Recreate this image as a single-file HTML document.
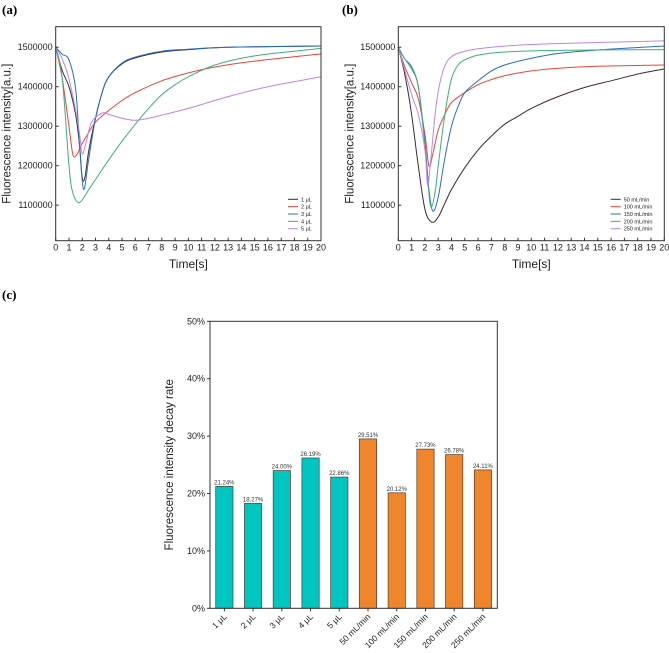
<!DOCTYPE html>
<html><head><meta charset="utf-8"><style>
html,body{margin:0;padding:0;background:#fff;}
svg{display:block;font-family:"Liberation Sans",sans-serif;}
</style></head><body>
<svg id="fig" width="669" height="653" viewBox="0 0 669 653">
<text x="2" y="14" font-family="Liberation Serif" font-weight="bold" font-size="13">(a)</text>
<text x="342" y="14" font-family="Liberation Serif" font-weight="bold" font-size="13">(b)</text>
<text x="2" y="299" font-family="Liberation Serif" font-weight="bold" font-size="13">(c)</text>
<g id="pa"></g>
<g id="pb"></g>
<g id="pc"></g>
</svg>
<script>
// Panel a data (time s, intensity in thousands)
const aNames = ["1 μL","2 μL","3 μL","4 μL","5 μL"];
const aS1 = [[0,1500],[0.5,1440],[1,1400],[1.5,1330],[1.8,1250],[2,1170],[2.2,1170],[2.5,1240],[3,1320],[3.5,1385],[4,1425],[5,1458],[6,1473],[8,1488],[10,1494],[13,1500],[20,1503]];
const aS2 = [[0,1500],[0.5,1420],[1,1300],[1.3,1228],[1.6,1228],[1.9,1250],[2.5,1285],[3,1310],[4,1340],[5,1365],[6,1385],[8,1415],[10,1435],[12,1450],[15,1465],[20,1483]];
const aS3 = [[0,1500],[0.5,1482],[1,1468],[1.5,1395],[1.8,1250],[2.1,1140],[2.5,1220],[3,1320],[3.5,1385],[4,1425],[5,1460],[6,1475],[8,1490],[10,1495],[13,1500],[20,1503]];
const aS4 = [[0,1500],[0.5,1420],[1,1200],[1.3,1130],[1.8,1107],[2.5,1140],[3,1165],[4,1215],[5,1262],[6,1305],[7,1345],[8,1380],[9,1405],[10,1425],[12,1455],[15,1478],[20,1497]];
const aS5 = [[0,1500],[0.5,1470],[1,1420],[1.5,1340],[1.8,1280],[2,1230],[2.3,1260],[2.7,1310],[3.5,1333],[4,1330],[5,1320],[6,1315],[7,1320],[8,1328],[10,1345],[13,1375],[16,1400],[20,1425]];
// Panel b data
const bNames = ["50 mL/min","100 mL/min","150 mL/min","200 mL/min","250 mL/min"];
const bS1 = [[0,1500],[0.5,1430],[1,1330],[1.5,1200],[2,1090],[2.5,1057],[3,1070],[3.5,1105],[4,1140],[5,1195],[6,1240],[7,1275],[8,1305],[9,1325],[10,1345],[12,1375],[14,1398],[16,1415],[18,1432],[20,1445]];
const bS2 = [[0,1500],[0.5,1450],[1,1410],[1.5,1370],[2,1280],[2.3,1200],[2.6,1230],[3,1290],[3.5,1330],[4,1360],[5,1385],[6,1405],[7,1418],[8,1428],[10,1440],[12,1447],[15,1452],[20,1455]];
const bS3 = [[0,1500],[0.5,1470],[1,1450],[1.5,1400],[2,1260],[2.3,1140],[2.6,1085],[3,1120],[3.5,1220],[4,1300],[4.5,1350],[5,1385],[6,1415],[7,1440],[8,1455],[10,1472],[12,1484],[15,1493],[20,1503]];
const bS4 = [[0,1500],[0.5,1470],[1,1445],[1.5,1400],[2,1250],[2.3,1130],[2.5,1095],[2.8,1140],[3,1200],[3.5,1330],[4,1420],[4.5,1455],[5,1468],[6,1480],[8,1488],[12,1492],[20,1494]];
const bS5 = [[0,1500],[0.5,1440],[1,1380],[1.5,1330],[2,1240],[2.2,1150],[2.4,1200],[2.8,1340],[3.2,1420],[3.8,1470],[5,1490],[7,1500],[10,1507],[15,1512],[20,1516]];
const yTicks = [1100,1200,1300,1400,1500];
const xTicks = [0,1,2,3,4,5,6,7,8,9,10,11,12,13,14,15,16,17,18,19,20];
const lineColors = ["#3b2a35","#e8453c","#2b6cc0","#3fae78","#b987e8"];
// Panel c data
const cCats = ["1 μL","2 μL","3 μL","4 μL","5 μL","50 mL/min","100 mL/min","150 mL/min","200 mL/min","250 mL/min"];
const cVals = [21.24,18.27,24.00,26.19,22.86,29.51,20.12,27.73,26.78,24.11];
const cTicks = [0,10,20,30,40,50];

const NS="http://www.w3.org/2000/svg";
function mk(tag,attrs,parent){const e=document.createElementNS(NS,tag);for(const k in attrs)e.setAttribute(k,attrs[k]);parent.appendChild(e);return e;}
function smooth(pts){let d="M"+pts[0][0].toFixed(1)+","+pts[0][1].toFixed(1);
 for(let i=0;i<pts.length-1;i++){const p0=pts[Math.max(0,i-1)],p1=pts[i],p2=pts[i+1],p3=pts[Math.min(pts.length-1,i+2)];
  const c1=[p1[0]+(p2[0]-p0[0])/6,p1[1]+(p2[1]-p0[1])/6],c2=[p2[0]-(p3[0]-p1[0])/6,p2[1]-(p3[1]-p1[1])/6];
  d+="C"+c1[0].toFixed(1)+","+c1[1].toFixed(1)+" "+c2[0].toFixed(1)+","+c2[1].toFixed(1)+" "+p2[0].toFixed(1)+","+p2[1].toFixed(1);}
 return d;}

function linePanel(g,x0,x1,series,names,legX){
 const y0=26.7,y1=240.7,ymin=1010,ymax=1552;
 const X=t=>x0+(t/20)*(x1-x0), Y=v=>y1-(v-ymin)/(ymax-ymin)*(y1-y0);
 series.forEach((s,i)=>{const p=mk("path",{d:smooth(s.map(q=>[X(q[0]),Y(q[1])])),fill:"none",stroke:lineColors[i],"stroke-width":1},g);
  
  });
 const fr=mk("rect",{x:x0,y:y0,width:x1-x0,height:y1-y0,fill:"none",stroke:"#333","stroke-width":1},g);
 
 
 xTicks.forEach(t=>{mk("line",{x1:X(t),x2:X(t),y1:y1,y2:y1-3,stroke:"#333"},g);
  const tx=mk("text",{x:X(t),y:y1+10,"font-size":9,"text-anchor":"middle",fill:"#222"},g);tx.textContent=t;
  
  });
 yTicks.forEach(v=>{mk("line",{x1:x0,x2:x0+3,y1:Y(v),y2:Y(v),stroke:"#333"},g);
  const tx=mk("text",{x:x0-3,y:Y(v)+3,"font-size":9,"text-anchor":"end",fill:"#222"},g);tx.textContent=v*1000;
  
  });
 const xt=mk("text",{x:(x0+x1)/2,y:268,"font-size":12,"text-anchor":"middle",fill:"#222"},g);xt.textContent="Time[s]";
 
 
 const yt=mk("text",{x:0,y:0,"font-size":11.5,"text-anchor":"middle",fill:"#222",transform:`translate(${x0-45},${(y0+y1)/2}) rotate(-90)`},g);yt.textContent="Fluorescence intensity[a.u.]";
 
 
 names.forEach((n,i)=>{const ly=199.3+i*7.35;
  mk("line",{x1:legX,x2:legX+10,y1:ly,y2:ly,stroke:lineColors[i]},g);
  const t=mk("text",{x:legX+13,y:ly+2,"font-size":5.5,fill:"#222"},g);t.textContent=n;
  
  });
}
linePanel(document.getElementById("pa"),55.7,321,[aS1,aS2,aS3,aS4,aS5],aNames,288);
linePanel(document.getElementById("pb"),398.3,664.3,[bS1,bS2,bS3,bS4,bS5],bNames,610.7);

(function(){
 const g=document.getElementById("pc");
 const x0=210,x1=497.3,y0=321.3,y1=608.3;
 const slot=(x1-x0)/cCats.length, bw=17.3;
 const Y=v=>y1-(v/50)*(y1-y0);
 cVals.forEach((v,i)=>{const cx=x0+slot*(i+0.5);
  const r=mk("rect",{x:cx-bw/2,y:Y(v),width:bw,height:y1-Y(v),fill:i<5?"#00c6c2":"#f0862c",stroke:"#5a3a2a","stroke-width":0.7},g);
  
  
  const t=mk("text",{x:cx,y:Y(v)-2,"font-size":6,"text-anchor":"middle",fill:"#333"},g);t.textContent=v.toFixed(2)+"%";
  
  
  mk("line",{x1:cx,x2:cx,y1:y1,y2:y1+3,stroke:"#333"},g);
  const c=mk("text",{x:0,y:0,"font-size":8.5,"text-anchor":"end",fill:"#222",transform:`translate(${cx+3},${y1+9}) rotate(-45)`},g);c.textContent=cCats[i];
  
  });
 const fr=mk("rect",{x:x0,y:y0,width:x1-x0,height:y1-y0,fill:"none",stroke:"#333","stroke-width":1},g);
 
 
 cTicks.forEach(v=>{mk("line",{x1:x0-3,x2:x0,y1:Y(v),y2:Y(v),stroke:"#333"},g);
  const t=mk("text",{x:x0-5,y:Y(v)+3,"font-size":9,"text-anchor":"end",fill:"#222"},g);t.textContent=v+"%";
  
  });
 const yt=mk("text",{x:0,y:0,"font-size":11.5,"text-anchor":"middle",fill:"#222",transform:`translate(${x0-37},${(y0+y1)/2}) rotate(-90)`},g);yt.textContent="Fluorescence intensity decay rate";
 
 
})();
</script>
</body></html>
